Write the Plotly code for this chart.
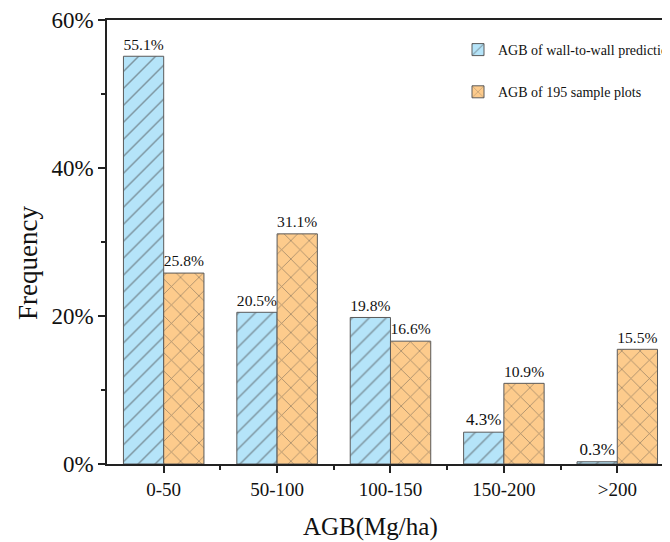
import plotly.graph_objects as go

categories = ["0-50", "50-100", "100-150", "150-200", ">200"]
wall_to_wall = [55.1, 20.5, 19.8, 4.3, 0.3]
sample_plots = [25.8, 31.1, 16.6, 10.9, 15.5]
series_names = ["AGB of wall-to-wall prediction", "AGB of 195 sample plots"]
y_ticks = [0, 20, 40, 60]
y_ticklabels = ["0%", "20%", "40%", "60%"]
x_title = "AGB(Mg/ha)"
y_title = "Frequency"

FONT = "Liberation Serif"
OFF = 8  # page body margin
W, H = 670 - OFF, 542 - OFF
ml, mr, mt, mb = 107 - OFF, 0, 20 - OFF, 78
pw, ph = W - ml - mr, H - mt - mb
plot_bottom = H - mb


def px_x(page_x):
    return (page_x - OFF - ml) / pw


def px_y(page_y):
    return (plot_bottom - (page_y - OFF)) / ph


BLUE, ORANGE, LINE = "#B5E4F9", "#FDCB8C", "#444444"

fig = go.Figure()
fig.add_trace(go.Bar(
    x=categories, y=wall_to_wall, name=series_names[0], legendgroup="a",
    marker=dict(color=BLUE, line=dict(color="#5a5a5a", width=1),
                pattern=dict(shape="/", fgcolor=LINE, bgcolor=BLUE,
                             size=12, solidity=0.12, fillmode="overlay")),
    text=[f"{v:.1f}%" for v in wall_to_wall], textposition="outside",
    textfont=dict(family=FONT, size=17, color="#111111"), cliponaxis=False,
))
fig.add_trace(go.Bar(
    x=categories, y=sample_plots, name=series_names[1], legendgroup="b",
    marker=dict(color=ORANGE, line=dict(color="#5a5a5a", width=1),
                pattern=dict(shape="x", fgcolor=LINE, bgcolor=ORANGE,
                             size=13, solidity=0.12, fillmode="overlay")),
    text=[f"{v:.1f}%" for v in sample_plots], textposition="outside",
    textfont=dict(family=FONT, size=17, color="#111111"), cliponaxis=False,
))

fig.update_layout(
    width=W, height=H,
    margin=dict(l=ml, r=mr, t=mt, b=mb, autoexpand=False),
    paper_bgcolor="white", plot_bgcolor="white",
    barmode="group", bargap=0.29, bargroupgap=0,
    font=dict(family=FONT, color="#111111"),
    showlegend=True,
    legend=dict(x=px_x(458), y=px_y(34), xanchor="left", yanchor="top",
                traceorder="grouped", tracegroupgap=21,
                font=dict(family=FONT, size=14, color="#111111"),
                bgcolor="rgba(0,0,0,0)", borderwidth=0),
    xaxis=dict(
        range=[-0.5, 4.465], showline=True, linecolor="#222222", linewidth=1.5,
        mirror=True, ticks="outside", ticklen=7, tickwidth=1.5, tickcolor="#222222",
        tickfont=dict(family=FONT, size=19, color="#111111"), automargin=False,
        minor=dict(ticks="outside", ticklen=4, tickwidth=1.5, tickcolor="#222222",
                   tickvals=[0.5, 1.5, 2.5, 3.5]),
        showgrid=False, zeroline=False,
    ),
    yaxis=dict(
        range=[0, 60], showline=True, linecolor="#222222", linewidth=1.5,
        mirror=True, ticks="outside", ticklen=7, tickwidth=1.5, tickcolor="#222222",
        tickvals=y_ticks, ticktext=y_ticklabels, automargin=False,
        tickfont=dict(family=FONT, size=23, color="#111111"),
        minor=dict(ticks="outside", ticklen=4, tickwidth=1.5, tickcolor="#222222",
                   tickvals=[10, 30, 50]),
        showgrid=False, zeroline=False,
    ),
    annotations=[
        dict(text=x_title, xref="paper", yref="paper",
             x=px_x(370), y=px_y(527),
             xanchor="center", yanchor="middle", showarrow=False,
             font=dict(family=FONT, size=25, color="#111111")),
        dict(text=y_title, xref="paper", yref="paper", textangle=-90,
             x=px_x(28), y=px_y(263),
             xanchor="center", yanchor="middle", showarrow=False,
             font=dict(family=FONT, size=27, color="#111111")),
    ],
)

fig.write_html("out.html")
